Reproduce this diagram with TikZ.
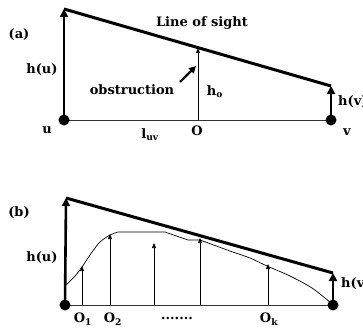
\documentclass[tikz,border=0pt]{standalone}
\usepackage{fontspec}
\setmainfont{DejaVu Serif}
\usetikzlibrary{arrows.meta}
\newcommand{\sbs}[1]{\textsubscript{#1}}
\begin{document}
\begin{tikzpicture}[x=1pt,y=-1pt,
  dot/.style={circle,fill=black,inner sep=0pt,minimum size=11pt},
  lbl/.style={font=\bfseries\fontsize{13}{15}\selectfont,inner sep=1pt},
  bigarrow/.style={line width=2.6pt,-{Triangle[length=8pt,width=8pt]}},
  thinarrow/.style={line width=0.7pt,-{Triangle[length=5pt,width=4pt]}},
  los/.style={line width=3pt},
  base/.style={line width=0.9pt,black!80}]
\useasboundingbox (0,0) rectangle (363,329);
\clip (0,0) rectangle (363,329);
% ---------- (a) ----------
\coordinate (ua) at (64,120);
\coordinate (va) at (331,120);
\coordinate (uta) at (64,9);
\coordinate (vta) at (331,86);
\coordinate (oa) at (198,120);
\coordinate (ota) at (198,48);
\coordinate (obs1) at (180,82);
\coordinate (obs2) at (196,66);
\draw[base] (ua) -- (va);
\draw[los] (uta) -- (vta);
\draw[bigarrow] (ua) -- (uta);
\draw[bigarrow] (va) -- (vta);
\draw[thinarrow] (oa) -- (ota);
\draw[line width=2.2pt,-{Triangle[length=7pt,width=7pt]}] (obs1) -- (obs2);
\node[dot] (udot) at (ua) {};
\node[dot] (vdot) at (va) {};
\node[lbl] (la) at (19,35) {(a)};
\node[lbl] (los1) at (202,23) {Line of sight};
\node[lbl] (hu1) at (42,70) {h(u)};
\node[lbl,anchor=west] (hv1) at (337,102) {h(v)};
\node[lbl] (obst) at (132,90) {obstruction};
\node[lbl] (ho) at (215,92) {h\sbs{o}};
\node[lbl] (ul) at (47,130) {u};
\node[lbl] (luv) at (150,135) {l\sbs{uv}};
\node[lbl] (ol) at (197,131) {O};
\node[lbl] (vl) at (347,132) {v};
% ---------- (b) ----------
\coordinate (ub) at (65,305);
\coordinate (vb) at (333,305);
\coordinate (utb) at (66,198);
\coordinate (vtb) at (333,273);
\draw[base] (ub) -- (vb);
\draw[line width=0.7pt] plot[smooth,tension=0.5] coordinates {(66,285) (75,276) (82,267) (92,252) (100,242) (110,235) (118,232)}
  -- (165,232) -- (188,240) -- (200,240)
  plot[smooth,tension=0.5] coordinates {(200,240) (230,251) (250,258) (267,266) (290,276) (312,288) (331,303)};
\draw[los] (utb) -- (vtb);
\draw[bigarrow] (ub) -- (utb);
\draw[bigarrow] (vb) -- (vtb);
\coordinate (o1b) at (82,305);
\coordinate (o2b) at (110,305);
\coordinate (o3b) at (154,305);
\coordinate (o4b) at (200,305);
\coordinate (okb) at (268,305);
\draw[thinarrow] (o1b) -- (82,266);
\draw[thinarrow] (o2b) -- (110,234);
\draw[thinarrow] (o3b) -- (154,243);
\draw[thinarrow] (o4b) -- (200,238);
\draw[thinarrow] (okb) -- (268,264);
\node[dot] (udotb) at (ub) {};
\node[dot] (vdotb) at (vb) {};
\node[lbl] (lb) at (19,213) {(b)};
\node[lbl] (hu2) at (42,258) {h(u)};
\node[lbl,anchor=west] (hv2) at (340,284) {h(v)};
\node[lbl] (o1l) at (83,319) {O\sbs{1}};
\node[lbl] (o2l) at (113,319) {O\sbs{2}};
\node[lbl] (dots) at (177,318) {.......};
\node[lbl] (okl) at (269,319) {O\sbs{k}};
\end{tikzpicture}
\end{document}
